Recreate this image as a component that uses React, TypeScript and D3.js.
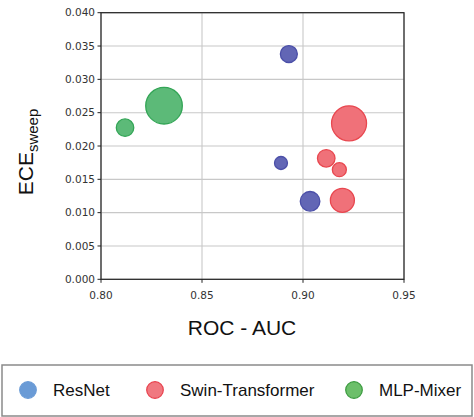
import React from "react";
import * as d3 from "d3";

const models = ["ResNet", "Swin-Transformer", "MLP-Mixer"];
const pointModel = ["MLP-Mixer", "MLP-Mixer", "ResNet", "ResNet", "ResNet", "Swin-Transformer", "Swin-Transformer", "Swin-Transformer", "Swin-Transformer"];
const rocAuc = [0.8119, 0.8312, 0.893, 0.8891, 0.9035, 0.9228, 0.9115, 0.918, 0.9195];
const eceSweep = [0.02275, 0.02605, 0.0338, 0.01745, 0.0117, 0.0234, 0.01815, 0.01645, 0.01185];
const bubbleSize = [76, 335, 72, 42, 96, 306, 77, 49, 144];
const xTicks = [0.8, 0.85, 0.9, 0.95];
const yTicks = [0, 0.005, 0.01, 0.015, 0.02, 0.025, 0.03, 0.035, 0.04];

const fills: Record<string, string> = {
  "ResNet": "#6266b5",
  "Swin-Transformer": "#f07179",
  "MLP-Mixer": "#5cba78",
};
const strokes: Record<string, string> = {
  "ResNet": "#4b4fa8",
  "Swin-Transformer": "#e8474f",
  "MLP-Mixer": "#33a556",
};
const legendFills: Record<string, string> = {
  "ResNet": "#6a9bd6",
  "Swin-Transformer": "#f07880",
  "MLP-Mixer": "#6cbf6a",
};
const legendStrokes: Record<string, string> = {
  "ResNet": "#6a9bd6",
  "Swin-Transformer": "#e8404c",
  "MLP-Mixer": "#3a9a3e",
};

export default function App() {
  const W = 474, H = 417;
  const left = 101, right = 404, top = 12.7, bottom = 279.3;
  const x = d3.scaleLinear().domain([0.8, 0.95]).range([left, right]);
  const y = d3.scaleLinear().domain([0, 0.04]).range([bottom, top]);
  const r = d3.scaleSqrt().domain([0, 400]).range([0, 20]);
  const fmtY = d3.format(".3f");
  const fmtX = d3.format(".2f");
  const order = d3.range(rocAuc.length).sort((a, b) => bubbleSize[b] - bubbleSize[a]);
  const legendX = [28, 155, 354];
  const tickFont = "'DejaVu Sans', sans-serif";
  const labelFont = "'Liberation Sans', Arial, sans-serif";

  return (
    <svg width={W} height={H} style={{ position: "absolute", left: 0, top: 0, background: "#fff" }}>
      {/* grid */}
      {xTicks.map((t) => (
        <line key={"gx" + t} x1={x(t)} x2={x(t)} y1={top} y2={bottom} stroke="#c8c8c8" strokeWidth={1.1} />
      ))}
      {yTicks.map((t) => (
        <line key={"gy" + t} x1={left} x2={right} y1={y(t)} y2={y(t)} stroke="#c8c8c8" strokeWidth={1.1} />
      ))}
      {/* bubbles */}
      {order.map((i) => (
        <circle
          key={"p" + i}
          cx={x(rocAuc[i])}
          cy={y(eceSweep[i])}
          r={r(bubbleSize[i])}
          fill={fills[pointModel[i]]}
          stroke={strokes[pointModel[i]]}
          strokeWidth={1.3}
        />
      ))}
      {/* frame */}
      <rect x={left} y={top} width={right - left} height={bottom - top} fill="none" stroke="#222" strokeWidth={1.2} />
      {/* y ticks */}
      {yTicks.map((t) => (
        <g key={"ty" + t}>
          <line x1={left - 3.5} x2={left} y1={y(t)} y2={y(t)} stroke="#222" strokeWidth={1} />
          <text x={left - 6} y={y(t)} dy="0.35em" textAnchor="end" fontSize={10.5} fontFamily={tickFont} fill="#333">
            {fmtY(t)}
          </text>
        </g>
      ))}
      {/* x ticks */}
      {xTicks.map((t) => (
        <g key={"tx" + t}>
          <line x1={x(t)} x2={x(t)} y1={bottom} y2={bottom + 3.5} stroke="#222" strokeWidth={1} />
          <text x={x(t)} y={295} dy="0.35em" textAnchor="middle" fontSize={10.5} fontFamily={tickFont} fill="#333">
            {fmtX(t)}
          </text>
        </g>
      ))}
      {/* axis labels */}
      <text x={242} y={335} textAnchor="middle" fontSize={21} fontFamily={labelFont} fill="#111">
        ROC - AUC
      </text>
      <text transform="translate(33,152) rotate(-90)" textAnchor="middle" fontFamily={labelFont} fill="#111">
        <tspan fontSize={21}>ECE</tspan>
        <tspan fontSize={15} dy={5}>sweep</tspan>
      </text>
      {/* legend */}
      <rect x={2} y={365} width={470} height={51} fill="#fff" stroke="#8a8a8a" strokeWidth={1.5} />
      {models.map((m, i) => (
        <g key={"lg" + m}>
          <circle cx={legendX[i]} cy={390} r={8.3} fill={legendFills[m]} stroke={legendStrokes[m]} strokeWidth={1.2} />
          <text x={legendX[i] + 25} y={390} dy="0.35em" fontSize={17} fontFamily={labelFont} fill="#111">
            {m}
          </text>
        </g>
      ))}
    </svg>
  );
}
